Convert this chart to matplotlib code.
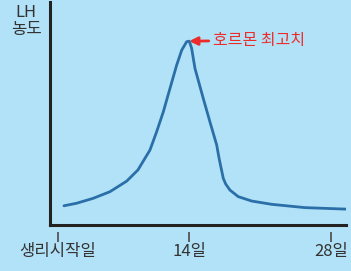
import matplotlib
matplotlib.use("Agg")
import matplotlib.pyplot as plt

plt.rcParams['font.family'] = ['Noto Sans CJK KR', 'DejaVu Sans']

# Data: cycle day vs LH concentration (arbitrary units)
days = [1.59, 2.85, 4.49, 6.14, 7.80, 8.91, 10.10, 10.76, 11.42, 12.08, 12.74,
        13.24, 13.73, 13.99, 14.22, 14.55, 15.37, 16.03, 16.70, 16.93, 17.35,
        17.59, 18.01, 18.83, 20.16, 22.14, 25.43, 29.88]
lh = [10.5, 11.9, 14.6, 18.2, 24.0, 30.1, 41.0, 51.0, 61.9, 74.7, 87.4,
      95.6, 100.2, 100.5, 96.6, 85.6, 69.2, 56.4, 43.7, 36.6, 25.5,
      22.4, 19.1, 15.5, 13.1, 11.3, 9.5, 8.6]
tick_days = [1, 14, 28]
tick_labels = ['생리시작일', '14일', '28일']
y_label = 'LH\n농도'
peak_label = '호르몬 최고치'

bg = '#b2e2f7'
line_c = '#2a6fa8'
red = '#ee2b2b'

W, H = 351, 271
fig = plt.figure(figsize=(W / 100, H / 100), dpi=100, facecolor=bg)
ax = fig.add_axes([50 / W, (H - 225) / H, (346 - 50) / W, (225 - 2) / H])
ax.set_facecolor(bg)

ax.plot(days, lh, color=line_c, lw=2.0, solid_capstyle='round', solid_joinstyle='round')

ax.set_xlim(0.21, 29.49)
ax.set_ylim(0, 121.9)

for s in ['top', 'right']:
    ax.spines[s].set_visible(False)
for s in ['left', 'bottom']:
    ax.spines[s].set_linewidth(2.2)
    ax.spines[s].set_color('#222222')
ax.spines['left'].set_capstyle('projecting')

ax.set_yticks([])
ax.set_xticks(tick_days, tick_labels)
ax.tick_params(axis='x', length=0, pad=13, labelsize=12, labelcolor='#333333')

# separated tick marks below the axis
ax.vlines(tick_days, -0.033, -0.075, transform=ax.get_xaxis_transform(),
          colors='#555555', lw=1.3, clip_on=False)

fig.text(26 / W, 1 - 21 / H, y_label, ha='center', va='center', fontsize=12,
         color='#333333', linespacing=1.05)

pk = lh.index(max(lh))
ax.annotate(peak_label, xy=(days[pk], lh[pk]), xytext=(17.0, 0.5),
            textcoords='offset points', ha='left', va='center', fontsize=11.5,
            color=red,
            arrowprops=dict(arrowstyle='-|>', color=red, lw=2, shrinkA=1,
                            shrinkB=0, mutation_scale=12))

fig.savefig('out.png', dpi=100, facecolor=bg)
